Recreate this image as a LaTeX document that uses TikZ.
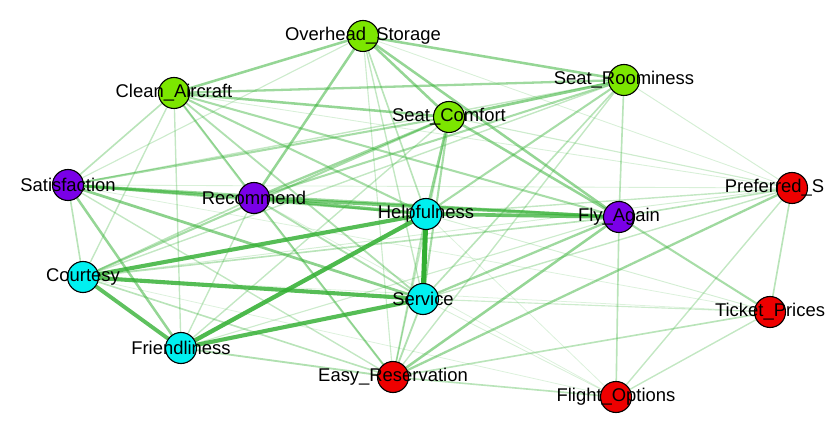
\documentclass[tikz,border=0pt]{standalone}
\usepackage{fontspec}
\setmainfont{Liberation Sans}
\usepackage{tikz}
\usetikzlibrary{backgrounds}
\definecolor{cabingreen}{RGB}{124,230,0}
\definecolor{outcomepurple}{RGB}{122,0,232}
\definecolor{staffcyan}{RGB}{0,240,240}
\definecolor{bookingred}{RGB}{238,0,0}
\definecolor{edgegreen}{RGB}{50,175,50}
\tikzset{item/.style={circle, draw=black, line width=1.1bp, minimum size=31bp, inner sep=0pt}}
\tikzset{cabin/.style={item, fill=cabingreen}}
\tikzset{outcome/.style={item, fill=outcomepurple}}
\tikzset{staff/.style={item, fill=staffcyan}}
\tikzset{booking/.style={item, fill=bookingred}}
\tikzset{every label/.style={font=\fontsize{18.5}{20}\selectfont, inner sep=0pt, text=black}}

\begin{document}
\begin{tikzpicture}[x=1bp, y=-1bp]
      \useasboundingbox (0,0) rectangle (825,433);

      \node[cabin] (os) at (363,36) [label={center:Overhead\_Storage}] {};
      \node[cabin] (sr) at (624,80) [label={center:Seat\_Roominess}] {};
      \node[cabin] (ca) at (174,93) [label={center:Clean\_Aircraft}] {};
      \node[cabin] (sc) at (449,117) [label={center:Seat\_Comfort}] {};

      \node[outcome] (sa) at (68,185) [label={center:Satisfaction}] {};
      \node[outcome] (re) at (254,198) [label={center:Recommend}] {};
      \node[outcome] (fa) at (619,217) [label={center:Fly\_Again}] {};

      \node[staff] (he) at (426,214) [label={center:Helpfulness}] {};
      \node[staff] (co) at (83,277) [label={center:Courtesy}] {};
      \node[staff] (se) at (423,299) [label={center:Service}] {};
      \node[staff] (fr) at (181,348) [label={center:Friendliness}] {};

      \node[booking] (ps) at (792,188) [label={center:Preferred\_Seats}] {};
      \node[booking] (tp) at (770,312) [label={center:Ticket\_Prices}] {};
      \node[booking] (er) at (393,377) [label={center:Easy\_Reservation}] {};
      \node[booking] (fo) at (616,397) [label={center:Flight\_Options}] {};

      % weighted edges, weakest first
      \begin{scope}[on background layer]
        \foreach \a/\b/\w in {
          sa/tp/0.06, co/tp/0.06, fo/he/0.06, sa/ps/0.08, fo/se/0.08, ca/ps/0.08,
          os/ps/0.08, sr/ps/0.1, he/tp/0.1, co/ps/0.1, fo/co/0.06, fo/re/0.06,
          tp/se/0.14, sa/os/0.14, ca/er/0.14, os/er/0.14, fa/fr/0.14, sc/ps/0.14,
          sa/sr/0.2, sa/er/0.2, ca/co/0.2, ca/fr/0.2, os/se/0.2, sc/fr/0.2,
          sc/er/0.2, sr/er/0.2, sr/co/0.2, re/fr/0.2, he/ps/0.2, ps/fo/0.2,
          ps/se/0.2, tp/fo/0.2, sa/co/0.25, sa/ca/0.25, os/he/0.25, sr/se/0.25,
          sr/fa/0.25, re/co/0.25, he/er/0.25, fa/ps/0.25, fa/fo/0.25, fa/co/0.25,
          ps/tp/0.25, er/co/0.25, er/tp/0.25, er/fo/0.25, ca/se/0.3, re/se/0.3,
          er/se/0.3, er/fr/0.3, sa/he/0.35, sa/sc/0.35, ca/re/0.35, ca/he/0.35,
          ca/fa/0.35, sc/se/0.35, sc/co/0.35, sr/he/0.35, sr/re/0.35, re/er/0.35,
          fa/tp/0.35, ca/sr/0.4, sc/re/0.4, fa/se/0.4, ps/er/0.4, sa/fa/0.42,
          ca/os/0.45, ca/sc/0.45, os/sr/0.45, os/sc/0.45, os/re/0.45, os/fa/0.45,
          sc/he/0.45, sc/fa/0.45, fa/er/0.45, sa/fr/0.45, sc/sr/0.5, sa/se/0.5,
          sa/re/0.55, re/he/0.6, re/fa/0.6, he/fa/0.7, co/fr/0.75, co/he/0.8,
          co/se/0.8, fr/se/0.8, fr/he/0.85, he/se/1.0}
        {
          \pgfmathsetmacro\lw{0.5+4.5*\w}
          \pgfmathsetmacro\op{0.12+0.88*\w}
          \draw[edgegreen, line width=\lw bp, draw opacity=\op] (\a) -- (\b);
        }
      \end{scope}

    \end{tikzpicture}
\end{document}
